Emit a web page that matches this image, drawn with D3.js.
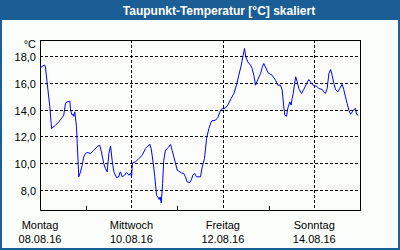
<!DOCTYPE html>
<html>
<head>
<meta charset="utf-8">
<script src="https://cdn.jsdelivr.net/npm/d3@7"></script>
<style>
  html, body { margin: 0; padding: 0; background: #fff; }
  svg { display: block; }
  text { font-family: "Liberation Sans", Arial, sans-serif; }
</style>
</head>
<body>
<div id="chart"></div>
<script>
// hours since Mo 08.08.16 00:00
const hours = [
  0, 2.1, 2.6, 3.5, 4.9, 5.8, 7.9, 9.6, 11.4, 12.2, 13.1, 13.7, 15.4, 15.8, 16.6, 17.2, 17.5, 18.0,
  18.9, 19.3, 20.1, 21.0, 21.9, 22.7, 23.6, 24.5, 26.3, 28.0, 30.1, 31.1, 32.0, 33.2, 34.1, 35.0,
  35.9, 36.8, 37.6, 38.5, 39.9, 41.1, 41.6, 42.0, 42.9, 44.1, 45.2, 46.4, 47.3, 47.8, 48.3, 49.9,
  51.6, 53.4, 55.1, 57.4, 58.1, 59.2, 60.0, 60.9, 61.6, 62.3, 62.8, 63.4, 64.1, 64.7, 65.6, 67.0,
  68.3, 69.1, 70.0, 70.9, 71.8, 72.6, 74.0, 75.2, 76.1, 77.0, 78.4, 79.1, 80.0, 80.9, 81.9, 83.1,
  84.0, 84.9, 86.1, 87.2, 88.4, 89.8, 91.9, 93.1, 94.0, 95.0, 97.1, 98.3, 100.1, 101.5, 102.9,
  104.1, 105.4, 106.4, 107.1, 107.8, 108.8, 110.3, 111.1, 112.0, 112.9, 114.1, 115.5, 116.4,
  117.2, 118.1, 119.5, 121.6, 123.4, 124.6, 126.0, 126.9, 127.7, 128.3, 129.2, 129.8, 130.9,
  131.6, 132.1, 132.7, 133.4, 134.0, 134.8, 135.6, 137.0, 138.2, 139.7, 140.9, 142.1, 143.2,
  144.9, 146.1, 147.9, 148.7, 149.6, 150.5, 151.4, 152.3, 153.1, 154.0, 154.9, 156.1, 157.1,
  158.4, 159.2, 160.1, 161.0, 161.9, 162.8, 163.7, 164.5, 165.4, 165.9, 166.8
];
const dewPoint = [
  17.18, 17.37, 17.22, 16.03, 14.24, 12.63, 12.87, 13.12, 13.45, 13.62, 14.49, 14.61, 14.66, 13.99,
  13.62, 13.69, 13.54, 13.87, 12.75, 11.51, 9.02, 9.39, 9.89, 10.51, 10.76, 10.84, 10.76, 11.0,
  11.31, 11.38, 10.88, 10.01, 9.64, 9.39, 10.76, 11.31, 10.26, 9.39, 8.97, 9.02, 9.31, 9.39, 9.02,
  9.14, 9.34, 9.14, 9.31, 9.02, 10.06, 10.14, 10.39, 10.63, 11.13, 11.46, 11.13, 10.01, 9.02, 7.65,
  7.52, 7.33, 7.52, 7.07, 8.52, 10.26, 11.0, 11.2, 11.43, 11.0, 10.51, 10.01, 9.51, 9.44, 9.31,
  9.27, 9.02, 8.64, 8.60, 8.77, 9.14, 9.27, 9.02, 9.02, 9.02, 9.76, 10.39, 11.88, 12.63, 13.19,
  13.25, 13.45, 13.79, 14.07, 14.16, 14.37, 14.87, 15.24, 15.86, 16.60, 17.35, 18.10, 18.60, 17.97,
  17.60, 17.35, 17.10, 16.60, 15.86, 16.28, 16.73, 17.18, 17.48, 17.22, 16.78, 16.60, 16.23, 15.86,
  15.86, 15.49, 14.24, 13.62, 13.54, 14.12, 14.61, 14.37, 14.87, 15.24, 15.99, 16.48, 16.10, 15.61,
  15.24, 15.54, 15.99, 16.28, 16.03, 15.86, 15.78, 15.61, 15.54, 15.36, 15.24, 15.61, 16.73, 17.03,
  16.60, 15.99, 15.54, 15.36, 15.61, 15.93, 15.54, 14.99, 14.49, 13.99, 13.69, 13.87, 14.04, 14.12,
  13.69, 13.62
];

const dayNames = ["Montag", "Mittwoch", "Freitag", "Sonntag"];
const dayDates = ["08.08.16", "10.08.16", "12.08.16", "14.08.16"];
const labelDays = [0, 2, 4, 6];      // days after start that get a label
const minorDays = [1, 3, 5];
const yTicks = [8, 10, 12, 14, 16, 18];
const title = "Taupunkt-Temperatur [°C] skaliert";

const W = 400, H = 250;
const start = new Date(2016, 7, 8);
const day = 24 * 3600 * 1000;

const svg = d3.select("#chart").append("svg")
    .attr("width", W)
    .attr("height", H);

// frame + title bar
svg.append("rect").attr("width", W).attr("height", H).attr("fill", "#1b5e96");
svg.append("rect").attr("x", 2).attr("y", 20).attr("width", W - 4).attr("height", H - 22)
    .attr("fill", "#fafdfa");
svg.append("text")
    .attr("x", 219).attr("y", 14.5)
    .attr("text-anchor", "middle")
    .attr("fill", "#fff")
    .style("font-size", "12px")
    .style("font-weight", "bold")
    .text(title);

const x = d3.scaleTime()
    .domain([start, new Date(start.getTime() + 7 * day)])
    .range([40, 360]);
const y = d3.scaleLinear()
    .domain([6.507, 19.194])
    .range([210, 40]);

const px = v => Math.round(v) + 0.5;

const g = svg.append("g");

// horizontal grid
g.selectAll("line.hgrid").data(yTicks).join("line")
    .attr("class", "hgrid")
    .attr("x1", 40).attr("x2", 360)
    .attr("y1", d => px(y(d))).attr("y2", d => px(y(d)))
    .attr("stroke", "#000")
    .attr("stroke-dasharray", "3,2")
    .attr("shape-rendering", "crispEdges");

// vertical grid at labelled days (not the left axis)
g.selectAll("line.vgrid").data(labelDays.slice(1)).join("line")
    .attr("class", "vgrid")
    .attr("x1", d => px(x(new Date(start.getTime() + d * day))))
    .attr("x2", d => px(x(new Date(start.getTime() + d * day))))
    .attr("y1", 40).attr("y2", 210)
    .attr("stroke", "#000")
    .attr("stroke-dasharray", "3,2")
    .attr("shape-rendering", "crispEdges");

// minor ticks on bottom axis
g.selectAll("line.minor").data(minorDays).join("line")
    .attr("class", "minor")
    .attr("x1", d => px(x(new Date(start.getTime() + d * day))))
    .attr("x2", d => px(x(new Date(start.getTime() + d * day))))
    .attr("y1", 206).attr("y2", 210)
    .attr("stroke", "#000")
    .attr("shape-rendering", "crispEdges");

// plot border
g.append("rect")
    .attr("x", 40.5).attr("y", 40.5)
    .attr("width", 320).attr("height", 170)
    .attr("fill", "none")
    .attr("stroke", "#000")
    .attr("shape-rendering", "crispEdges");

// data line
const pts = hours.map((h, i) => [new Date(start.getTime() + h * 3600 * 1000), dewPoint[i]]);
const line = d3.line()
    .x(d => x(d[0]) + 0.5)
    .y(d => y(d[1]) + 0.5);
g.append("path")
    .datum(pts)
    .attr("d", line)
    .attr("fill", "none")
    .attr("stroke", "#0000ff")
    .attr("stroke-width", 1);

// y labels
const fmt = d => d3.format(".1f")(d).replace(".", ",");
g.selectAll("text.ylab").data(yTicks).join("text")
    .attr("class", "ylab")
    .attr("x", 36).attr("y", d => px(y(d)) + 4)
    .attr("text-anchor", "end")
    .style("font-size", "11px")
    .attr("fill", "#000")
    .text(fmt);
g.append("text")
    .attr("x", 36).attr("y", 48)
    .attr("text-anchor", "end")
    .style("font-size", "11px")
    .text("°C");

// x labels
labelDays.forEach((d, i) => {
    const xx = x(new Date(start.getTime() + d * day));
    g.append("text").attr("x", xx).attr("y", 229)
        .attr("text-anchor", "middle").style("font-size", "11px")
        .text(dayNames[i]);
    g.append("text").attr("x", xx).attr("y", 243)
        .attr("text-anchor", "middle").style("font-size", "11px")
        .text(dayDates[i]);
});
</script>
</body>
</html>
